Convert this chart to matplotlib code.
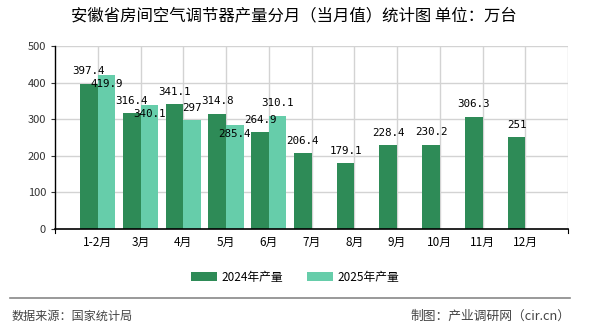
import numpy as np
import matplotlib.pyplot as plt

plt.rcParams['font.family'] = ['Noto Sans CJK SC', 'DejaVu Sans']

# --- Data ---
months = ['1-2月', '3月', '4月', '5月', '6月', '7月', '8月', '9月', '10月', '11月', '12月']
prod_2024 = [397.4, 316.4, 341.1, 314.8, 264.9, 206.4, 179.1, 228.4, 230.2, 306.3, 251]
prod_2025 = [419.9, 340.1, 297, 285.4, 310.1]
labels_2024 = ['397.4', '316.4', '341.1', '314.8', '264.9', '206.4', '179.1', '228.4', '230.2', '306.3', '251']
labels_2025 = ['419.9', '340.1', '297', '285.4', '310.1']
y_ticks = [0, 100, 200, 300, 400, 500]

c24 = '#2e8b57'
c25 = '#66cdaa'
w = 0.41

fig = plt.figure(figsize=(5.9, 3.3), dpi=100)
ax = fig.add_axes([55 / 590, 1 - 229 / 330, 513 / 590, 183 / 330])

x = np.arange(len(months))
x25 = np.arange(len(prod_2025))
ax.bar(x - w / 2, prod_2024, w, color=c24, zorder=2, label='2024年产量')
ax.bar(x25 + w / 2, prod_2025, w, color=c25, zorder=2, label='2025年产量')

mono = dict(family='DejaVu Sans Mono', fontsize=7.8, color='black', zorder=3)
for xi, v, s in zip(x, prod_2024, labels_2024):
    ax.annotate(s, (xi - w / 2, v), xytext=(0, 9), textcoords='offset points',
                ha='center', va='center', **mono)
for xi, v, s in zip(x25, prod_2025, labels_2025):
    # push the label inside the bar when it would collide with the 2024 label
    dy = -6.5 if abs(v - prod_2024[xi]) < 35 else 9
    ax.annotate(s, (xi + w / 2, v), xytext=(0, dy), textcoords='offset points',
                ha='center', va='center', **mono)

ax.set_xlim(-1, 11)
ax.set_ylim(0, 500)
ax.set_yticks(y_ticks)
ax.set_xticks(x)
ax.set_xticklabels(months, fontsize=8.5)
ax.tick_params(axis='x', length=0, pad=5)
ax.tick_params(axis='y', labelsize=8, colors='#333333', length=3, width=0.8)

# grid: horizontal at ticks, vertical at category centers and right edge
for yv in y_ticks[1:]:
    ax.axhline(yv, color='#d3d3d3', lw=1, zorder=1)
for xv in list(x) + [11]:
    ax.axvline(xv, color='#d3d3d3', lw=1, zorder=1)
for xv in [-1, 11]:
    ax.plot([xv, xv], [0, -0.02], transform=ax.get_xaxis_transform(),
            color='black', lw=0.8, clip_on=False)

for s in ['top', 'right']:
    ax.spines[s].set_visible(False)
ax.spines['left'].set_color('black')
ax.spines['bottom'].set_color('black')
ax.spines['left'].set_linewidth(1)
ax.spines['bottom'].set_linewidth(1.2)

fig.text(293.5 / 590, 1 - 16 / 330, '安徽省房间空气调节器产量分月（当月值）统计图 单位：万台',
         ha='center', va='center', fontsize=11.8)

fig.legend(loc='center', bbox_to_anchor=(0.5, 1 - 277 / 330), ncol=2, frameon=False,
           fontsize=8.5, handlelength=2.2, handleheight=0.8, columnspacing=2.0,
           handletextpad=0.4)

fig.add_artist(plt.Line2D([10 / 590, 570 / 590], [1 - 298 / 330] * 2,
                          color='#888888', lw=1.2))
fig.text(12 / 590, 1 - 316 / 330, '数据来源：国家统计局', ha='left', va='center',
         fontsize=8.7, color='#444444')
fig.text(570 / 590, 1 - 316 / 330, '制图：产业调研网（cir.cn）', ha='right', va='center',
         fontsize=9.2, color='#444444')

fig.savefig('out.png', dpi=100)
